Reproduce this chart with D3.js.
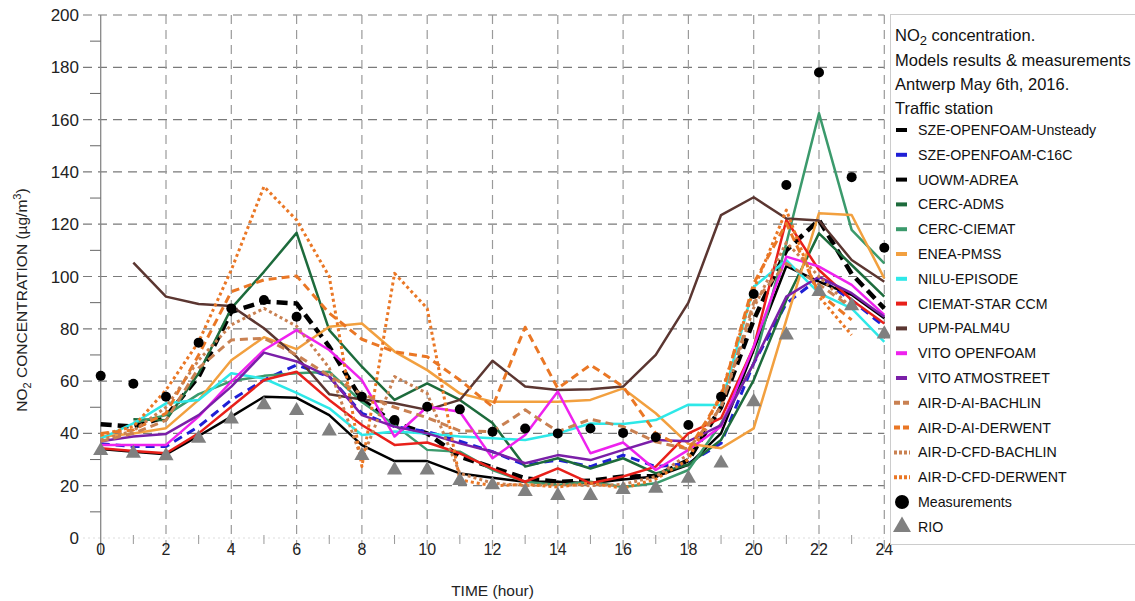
<!DOCTYPE html>
<html>
<head>
<meta charset="utf-8">
<script src="https://cdn.jsdelivr.net/npm/d3@7"></script>
<style>
  body { margin: 0; background: #fff; }
  svg { font-family: "Liberation Sans", Arial, sans-serif; }
  .yTickLabel { font-size: 17px; fill: #222; }
  .xTickLabel { font-size: 16px; fill: #222; }
  .axisTitle { font-size: 15.5px; fill: #222; }
  .legendText { font-size: 14.2px; fill: #111; }
  .legendHead { font-size: 16.5px; fill: #111; }
</style>
</head>
<body>
<svg id="chart" width="1135" height="601"></svg>
<script>

// hours 0..24
const hours = d3.range(0, 25);

// model series (NO2, ug/m3), null = no value
const szeUnsteady = [43.5, 42.6, 46.4, 61.7, 86.5, 90.4, 89.7, 73.2, 52.8, 43.9, 40, 31.1, 27, 22.8, 21.5, 21.9, 23.5, 23.7, 29.8, 50, 83.4, 110, 121.6, 101, 87.8];
const szeC16C = [36, 35, 35, 42.6, 52.8, 60.4, 66.2, 61.7, 47.7, 42.6, 40.7, 37, 33, 27.9, 29.8, 27.3, 31.7, 27.3, 28.5, 36.2, 66.8, 89.7, 99.3, 91, 80.8];
const uowmAdrea = [34, 33, 32, 39, 46.4, 54, 53.6, 47, 35.5, 29.4, 29.4, 24.7, 23, 21.5, 21.5, 20.9, 22.4, 23.5, 28, 40, 72, 104, 98, 93, 84];
const cercAdms = [null, 45.4, 45, 63, 87.8, 101.8, 116.7, 79.5, 65.5, 52.8, 59.1, 52.8, 44, 27.3, 30.5, 26.6, 30.5, 24.7, 28, 37.5, 60.4, 91, 116.5, 104.4, 92.3];
const cercCiemat = [null, 44, 47, 55, 60, 62, 63, 63.6, 52, 43.2, 33.7, 33, 26, 21.5, 20.3, 21.5, 19.5, 20.9, 26, 43.8, 66.8, 112.7, 162.4, 117.8, 105];
const eneaPmss = [38.7, 40, 42, 52.8, 68, 76.8, 72.2, 80.8, 82, 71.3, 64.2, 55.3, 52.1, 52.1, 52.1, 52.8, 57.2, 47.7, 36, 34.3, 41.9, 83.4, 124.2, 123.5, 99.3];
const niluEpisode = [38, 43.8, 51.5, 52.8, 63, 61, 55.5, 49.6, 39.4, 40.7, 40, 38.8, 38.1, 37.5, 40, 43.8, 43.6, 45.1, 51, 50.9, 96, 106.3, 93.6, 87.8, 75];
const ciematStar = [34.3, 33.3, 32.4, 40, 50.2, 60.4, 63.6, 52.8, 43.2, 35.6, 36.5, 32.4, 26.5, 21.5, 26.6, 20.9, 23.5, 27.3, 40, 45.8, 73, 121.6, 102.5, 91, 82];
const upmPalm4u = [null, 105.3, 92.3, 89.5, 88.7, 80.2, 69.3, 55, 53, 51.5, 49, 52.8, 67.8, 57.9, 56.6, 56.9, 57.9, 70, 90, 123.5, 130.3, 122.2, 121.4, 106.3, 98];
const vitoOpenfoam = [35.6, 35.6, 35.6, 46.4, 59.8, 71.9, 79.5, 71.9, 60.4, 38.8, 50.2, 48.3, 30.5, 39.4, 56, 32.4, 36.5, 26, 33.7, 42.6, 73.2, 107.6, 103.8, 96.8, 85.3];
const vitoAtmostreet = [37, 38.8, 39.8, 47, 57.9, 70.9, 67.5, 61.7, 47, 42.6, 40, 36.2, 33, 28.6, 31.7, 29.8, 33.7, 37.5, 37, 43.2, 66.8, 92.3, 99.9, 93.6, 84.6];
const airAiBachlin = [37, 40, 45, 65, 75.7, 76.4, 70, 62, 55, 50, 46, 41, 40.7, 49, 40.7, 45.4, 42.6, 36.8, 34, 50, 90, 105, 97, 88, null];
const airAiDerwent = [40, 41.3, 47.7, 70, 94.2, 98.7, 100.2, 86, 76, 71.2, 69.3, 60.4, 50.2, 80.6, 57.2, 66.2, 57.9, 40, 33.7, 54, 97.4, 120.3, 93.6, 83.4, null];
const airCfdBachlin = [37.5, 41, 50, 68, 81.5, 87.8, 81, 65, 30, 61.7, 55.3, 24.7, 21, 20, 20.5, 20, 20.5, 23.5, 32, 50, 88, 113, 100, 88, null];
const airCfdDerwent = [39.4, 42.6, 56.6, 75, 102.5, 134.4, 121.6, 100, 27.3, 101.2, 87.8, 22.2, 20, 20.5, 19.5, 21, 19, 22.5, 30, 55, 95, 125.4, 92.3, 77.6, null];

// observations
const measurements = [62, 59, 54, 74.7, 87.8, 91, 84.6, null, 54, 45.1, 50.2, 49.2, 40.6, 41.9, 40, 41.9, 40.2, 38.5, 43.2, 54, 93.3, 135, 178, 138, 111];
const rio = [33.4, 32.4, 31.4, 38.1, 45.5, 50.9, 48.7, 40.9, 31.5, 26, 26, 21.9, 20.3, 17.7, 16.2, 16.2, 18.5, 19, 22.8, 28.6, 52.1, 77.6, 94.2, 88.8, 78];

const seriesNames = ["SZE-OPENFOAM-Unsteady", "SZE-OPENFOAM-C16C", "UOWM-ADREA", "CERC-ADMS", "CERC-CIEMAT", "ENEA-PMSS",
    "NILU-EPISODE", "CIEMAT-STAR CCM", "UPM-PALM4U", "VITO OPENFOAM", "VITO ATMOSTREET",
    "AIR-D-AI-BACHLIN", "AIR-D-AI-DERWENT", "AIR-D-CFD-BACHLIN", "AIR-D-CFD-DERWENT"];
const seriesValues = [szeUnsteady, szeC16C, uowmAdrea, cercAdms, cercCiemat, eneaPmss, niluEpisode, ciematStar,
    upmPalm4u, vitoOpenfoam, vitoAtmostreet, airAiBachlin, airAiDerwent, airCfdBachlin, airCfdDerwent];

const xTicks = d3.range(0, 25, 2);
const yTicks = d3.range(0, 201, 20);

// styles per series (same order as names); key = legend sample dash
const styles = [
    {color: "#000000", width: 4.5, dash: "11,6", key: null},
    {color: "#1f1fd6", width: 3, dash: "9,6", key: null},
    {color: "#000000", width: 2.5, dash: null, key: null},
    {color: "#1d6b3c", width: 2.5, dash: null, key: null},
    {color: "#3b9a6c", width: 2.5, dash: null, key: null},
    {color: "#f2a03f", width: 2.5, dash: null, key: null},
    {color: "#2ee8e8", width: 2.5, dash: null, key: null},
    {color: "#e8201a", width: 2.5, dash: null, key: null},
    {color: "#5b3631", width: 2.5, dash: null, key: null},
    {color: "#ee22ee", width: 2.5, dash: null, key: null},
    {color: "#7a1fa8", width: 2.5, dash: null, key: null},
    {color: "#c98152", width: 3, dash: "8,5", key: "6,3"},
    {color: "#ea7725", width: 3, dash: "8,5", key: "6,3"},
    {color: "#c98152", width: 3, dash: "3,3", key: "3,2"},
    {color: "#ea7725", width: 3, dash: "3,3", key: "3,2"}
];

/***** SETUP *****/
const svg = d3.select("#chart");
const margin = {top: 15, left: 100.7, right: 250.7, bottom: 63};
const width = 1135, height = 601;

const xScale = d3.scaleLinear().domain([0, 24]).range([margin.left, width - margin.right]);
const yScale = d3.scaleLinear().domain([0, 200]).range([height - margin.bottom, margin.top]);

/***** GRID *****/
const grid = svg.append("g").attr("id", "grid");

grid.selectAll(".hgrid")
    .data(yTicks)
    .enter()
    .append("line")
    .attr("x1", 83)
    .attr("x2", xScale(24))
    .attr("y1", d => yScale(d))
    .attr("y2", d => yScale(d))
    .attr("stroke", d => d === 0 ? "#ddd" : "#7a7a7a")
    .attr("stroke-width", 1.2)
    .attr("stroke-dasharray", d => d === 0 ? "2,3" : "9,6");

grid.selectAll(".vgrid")
    .data(xTicks.filter(d => d > 0))
    .enter()
    .append("line")
    .attr("x1", d => xScale(d))
    .attr("x2", d => xScale(d))
    .attr("y1", yScale(200))
    .attr("y2", yScale(0) + 17)
    .attr("stroke", "#9a9a9a")
    .attr("stroke-width", 1.2)
    .attr("stroke-dasharray", "9,6");

// odd-hour minor ticks
grid.selectAll(".xminor")
    .data(d3.range(1, 24, 2))
    .enter()
    .append("line")
    .attr("x1", d => xScale(d))
    .attr("x2", d => xScale(d))
    .attr("y1", yScale(0) - 3)
    .attr("y2", yScale(0) + 6)
    .attr("stroke", "#999")
    .attr("stroke-width", 1);

// y axis line + minor ticks
grid.append("line")
    .attr("x1", xScale(0)).attr("x2", xScale(0))
    .attr("y1", yScale(200)).attr("y2", yScale(0) + 17)
    .attr("stroke", "#888").attr("stroke-width", 1.3);

grid.selectAll(".yminor")
    .data(d3.range(10, 200, 20))
    .enter()
    .append("line")
    .attr("x1", 90)
    .attr("x2", xScale(0))
    .attr("y1", d => yScale(d))
    .attr("y2", d => yScale(d))
    .attr("stroke", "#666")
    .attr("stroke-width", 1);

/***** TICK LABELS *****/
svg.selectAll(".yLabel")
    .data(yTicks)
    .enter()
    .append("text")
    .attr("class", "yTickLabel")
    .attr("x", 79)
    .attr("y", d => yScale(d) + 6)
    .attr("text-anchor", "end")
    .text(d => d);

svg.selectAll(".xLabel")
    .data(xTicks)
    .enter()
    .append("text")
    .attr("class", "xTickLabel")
    .attr("x", d => xScale(d))
    .attr("y", 555)
    .attr("text-anchor", "middle")
    .text(d => d);

svg.append("text")
    .attr("class", "axisTitle")
    .attr("x", xScale(12))
    .attr("y", 596)
    .attr("text-anchor", "middle")
    .text("TIME (hour)");

const yTitle = svg.append("text")
    .attr("class", "axisTitle")
    .attr("transform", "translate(27, 300) rotate(-90)")
    .attr("text-anchor", "middle");
yTitle.append("tspan").text("NO");
yTitle.append("tspan").attr("font-size", "11px").attr("dy", 4).text("2");
yTitle.append("tspan").attr("dy", -4).text(" CONCENTRATION (\u00b5g/m");
yTitle.append("tspan").attr("font-size", "11px").attr("dy", -6).text("3");
yTitle.append("tspan").attr("dy", 6).text(")");

/***** LINES *****/
const plot = svg.append("g").attr("id", "plot");

const line = d3.line()
    .defined(d => d.v !== null)
    .x(d => xScale(d.h))
    .y(d => yScale(d.v));

seriesValues.forEach((vals, i) => {
    const pts = hours.map((h, j) => ({h: h, v: vals[j]}));
    plot.append("path")
        .datum(pts)
        .attr("d", line)
        .attr("fill", "none")
        .attr("stroke", styles[i].color)
        .attr("stroke-width", styles[i].width)
        .attr("stroke-dasharray", styles[i].dash)
        .attr("stroke-linejoin", "round");
});

/***** MARKERS *****/
plot.selectAll(".rio")
    .data(hours.map((h, j) => ({h: h, v: rio[j]})).filter(d => d.v !== null))
    .enter()
    .append("path")
    .attr("d", d3.symbol(d3.symbolTriangle, 100))
    .attr("transform", d => `translate(${xScale(d.h)}, ${yScale(d.v)})`)
    .attr("fill", "#808080");

plot.selectAll(".meas")
    .data(hours.map((h, j) => ({h: h, v: measurements[j]})).filter(d => d.v !== null))
    .enter()
    .append("circle")
    .attr("cx", d => xScale(d.h))
    .attr("cy", d => yScale(d.v))
    .attr("r", 5)
    .attr("fill", "#000");

/***** LEGEND *****/
const legend = svg.append("g").attr("id", "legend");

legend.append("rect")
    .attr("x", 890.5).attr("y", 14.5)
    .attr("width", 260).attr("height", 530)
    .attr("fill", "#fff")
    .attr("stroke", "#ccc");

const head1 = legend.append("text").attr("class", "legendHead").attr("x", 895).attr("y", 41);
head1.append("tspan").text("NO");
head1.append("tspan").attr("font-size", "13px").attr("dy", 4).text("2");
head1.append("tspan").attr("dy", -4).text(" concentration.");

legend.selectAll(".headLine")
    .data(["Models results & measurements", "Antwerp May 6th, 2016.", "Traffic station"])
    .enter()
    .append("text")
    .attr("class", "legendHead")
    .attr("x", 895)
    .attr("y", (d, i) => 66 + i * 24)
    .text(d => d);

const rowY = i => 130 + i * 24.8;

seriesNames.forEach((name, i) => {
    legend.append("line")
        .attr("x1", styles[i].key ? 894 : 896).attr("x2", styles[i].key ? 910 : 907)
        .attr("y1", rowY(i)).attr("y2", rowY(i))
        .attr("stroke", styles[i].color)
        .attr("stroke-width", 4)
        .attr("stroke-dasharray", styles[i].key);
    legend.append("text")
        .attr("class", "legendText")
        .attr("x", 918)
        .attr("y", rowY(i) + 5)
        .text(name);
});

const mRow = seriesNames.length;
legend.append("circle")
    .attr("cx", 902).attr("cy", rowY(mRow)).attr("r", 7).attr("fill", "#000");
legend.append("text").attr("class", "legendText")
    .attr("x", 918).attr("y", rowY(mRow) + 5).text("Measurements");

legend.append("path")
    .attr("d", d3.symbol(d3.symbolTriangle, 140))
    .attr("transform", `translate(902, ${rowY(mRow + 1)})`)
    .attr("fill", "#808080");
legend.append("text").attr("class", "legendText")
    .attr("x", 918).attr("y", rowY(mRow + 1) + 5).text("RIO");

</script>
</body>
</html>
